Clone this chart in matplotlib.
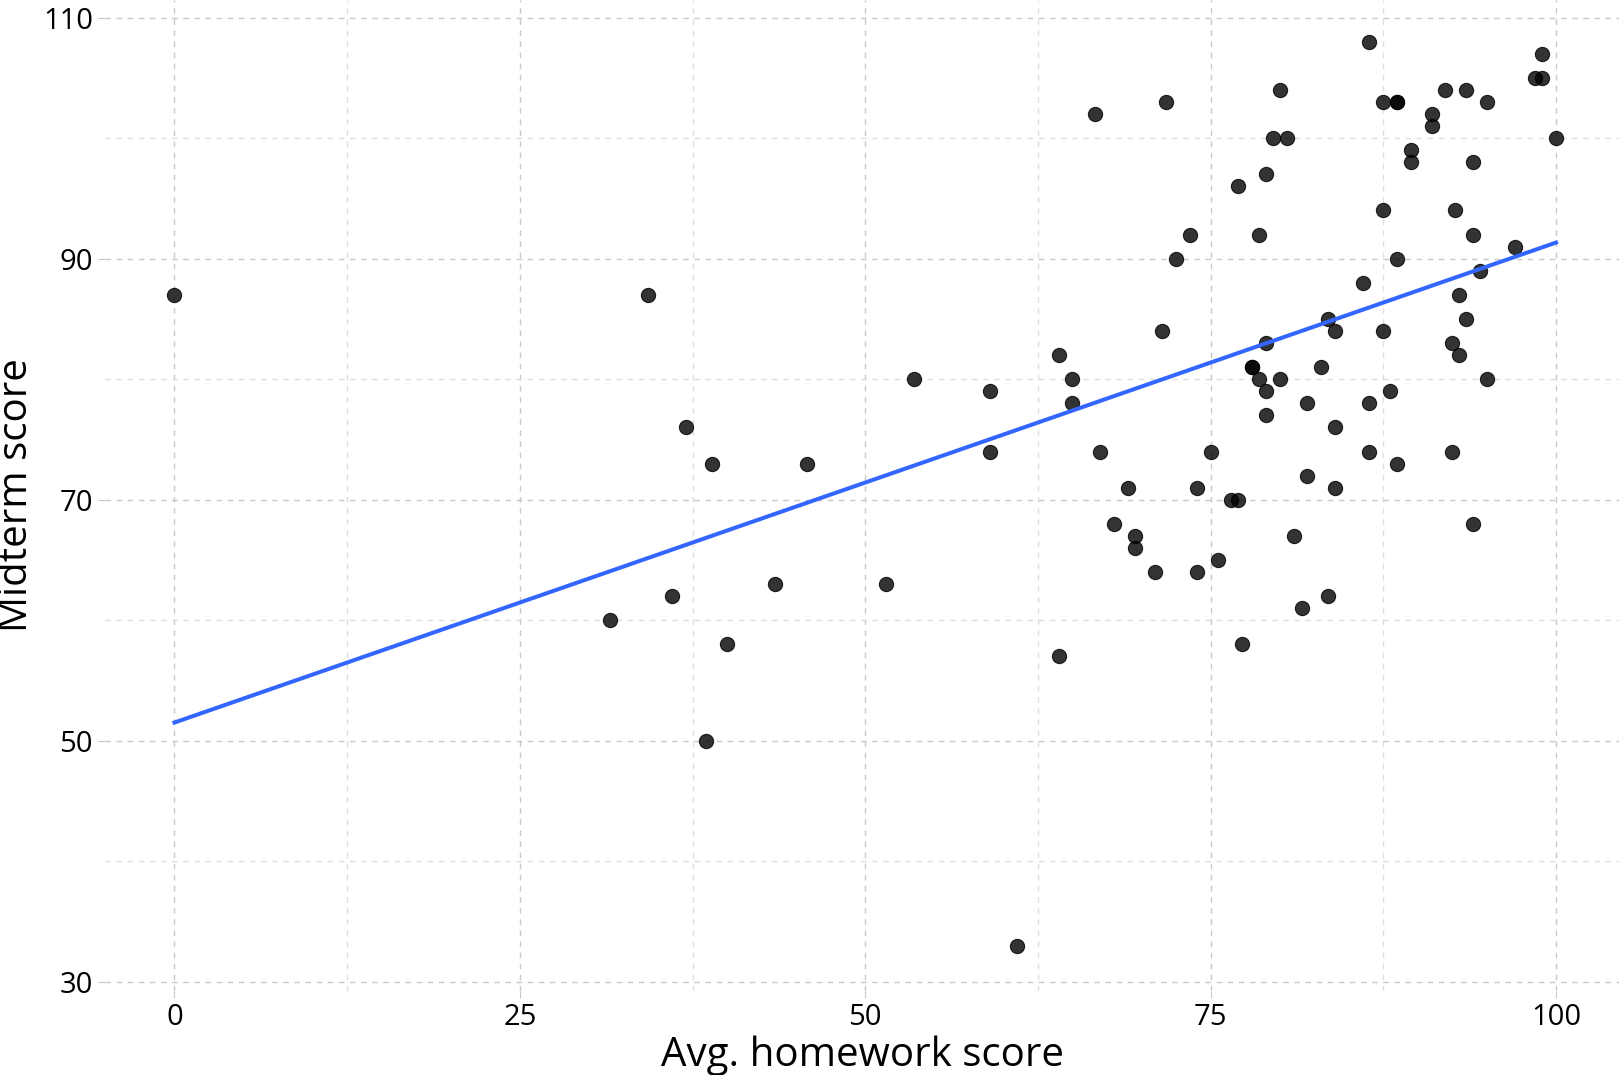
import matplotlib
matplotlib.use("Agg")
import matplotlib.pyplot as plt
import numpy as np

# avg homework score vs midterm score
hw = [0.0, 31.5, 34.3, 36.0, 37.0, 38.5, 38.9, 40.0, 43.5, 45.8, 51.5, 53.5,
      59.0, 59.0, 61.0, 64.0, 64.0, 65.0, 65.0, 66.6, 67.0, 68.0, 69.0, 69.5,
      69.5, 71.0, 71.5, 71.8, 72.5, 73.5, 74.0, 74.0, 75.0, 75.5, 76.5, 77.0,
      77.0, 77.3, 78.0, 78.0, 78.5, 78.5, 79.0, 79.0, 79.0, 79.0, 79.5, 80.0,
      80.0, 80.5, 81.0, 81.6, 82.0, 82.0, 83.0, 83.5, 83.5, 84.0, 84.0, 84.0,
      86.0, 86.5, 86.5, 86.5, 87.5, 87.5, 87.5, 88.0, 88.5, 88.5, 88.5, 88.5,
      89.5, 89.5, 91.0, 91.0, 92.0, 92.5, 92.5, 92.7, 93.0, 93.0, 93.5, 93.5,
      94.0, 94.0, 94.0, 94.5, 95.0, 95.0, 97.0, 98.5, 99.0, 99.0, 100.0]
midterm = [87, 60, 87, 62, 76, 50, 73, 58, 63, 73, 63, 80,
           79, 74, 33, 82, 57, 80, 78, 102, 74, 68, 71, 67,
           66, 64, 84, 103, 90, 92, 71, 64, 74, 65, 70, 70,
           96, 58, 81, 81, 80, 92, 97, 83, 79, 77, 100, 104,
           80, 100, 67, 61, 78, 72, 81, 85, 62, 84, 76, 71,
           88, 108, 78, 74, 103, 94, 84, 79, 103, 103, 90, 73,
           99, 98, 102, 101, 104, 83, 74, 94, 87, 82, 104, 85,
           98, 92, 68, 89, 103, 80, 91, 105, 107, 105, 100]

xticks = [0, 25, 50, 75, 100]
yticks = [30, 50, 70, 90, 110]

plt.rcParams['font.family'] = ['Open Sans', 'DejaVu Sans']

fig = plt.figure(figsize=(16.19, 10.75), dpi=100)
ax = fig.add_axes([0.0651, 0.0782, 0.9349, 0.9218])

# grid, dashed like the original
ax.set_xticks(xticks)
ax.set_yticks(yticks)
ax.set_xticks([12.5, 37.5, 62.5, 87.5], minor=True)
ax.set_yticks([40, 60, 80, 100], minor=True)
ax.grid(which='major', color='#c8c8c8', linestyle=(0, (4, 4)), linewidth=1.0)
ax.grid(which='minor', color='#dedede', linestyle=(0, (4, 4)), linewidth=1.0)
ax.set_axisbelow(True)

ax.scatter(hw, midterm, s=105, facecolor='black', edgecolor='black',
           linewidth=0.8, alpha=0.8, zorder=3)

# linear fit
b, a = np.polyfit(hw, midterm, 1)
xs = np.array([min(hw), max(hw)])
ax.plot(xs, a + b * xs, color='#3366FF', linewidth=2.9, zorder=4)

ax.set_xlim(-5, 104.56)
ax.set_ylim(29.25, 111.46)

for s in ax.spines.values():
    s.set_visible(False)
ax.tick_params(which='major', length=5, color='#c8c8c8', labelsize=21,
               labelcolor='black', pad=4)
ax.tick_params(which='minor', length=0)

ax.set_xlabel('Avg. homework score', fontsize=29, labelpad=2)
ax.set_ylabel('Midterm score', fontsize=29, labelpad=4)

fig.savefig('out.png', dpi=100)
